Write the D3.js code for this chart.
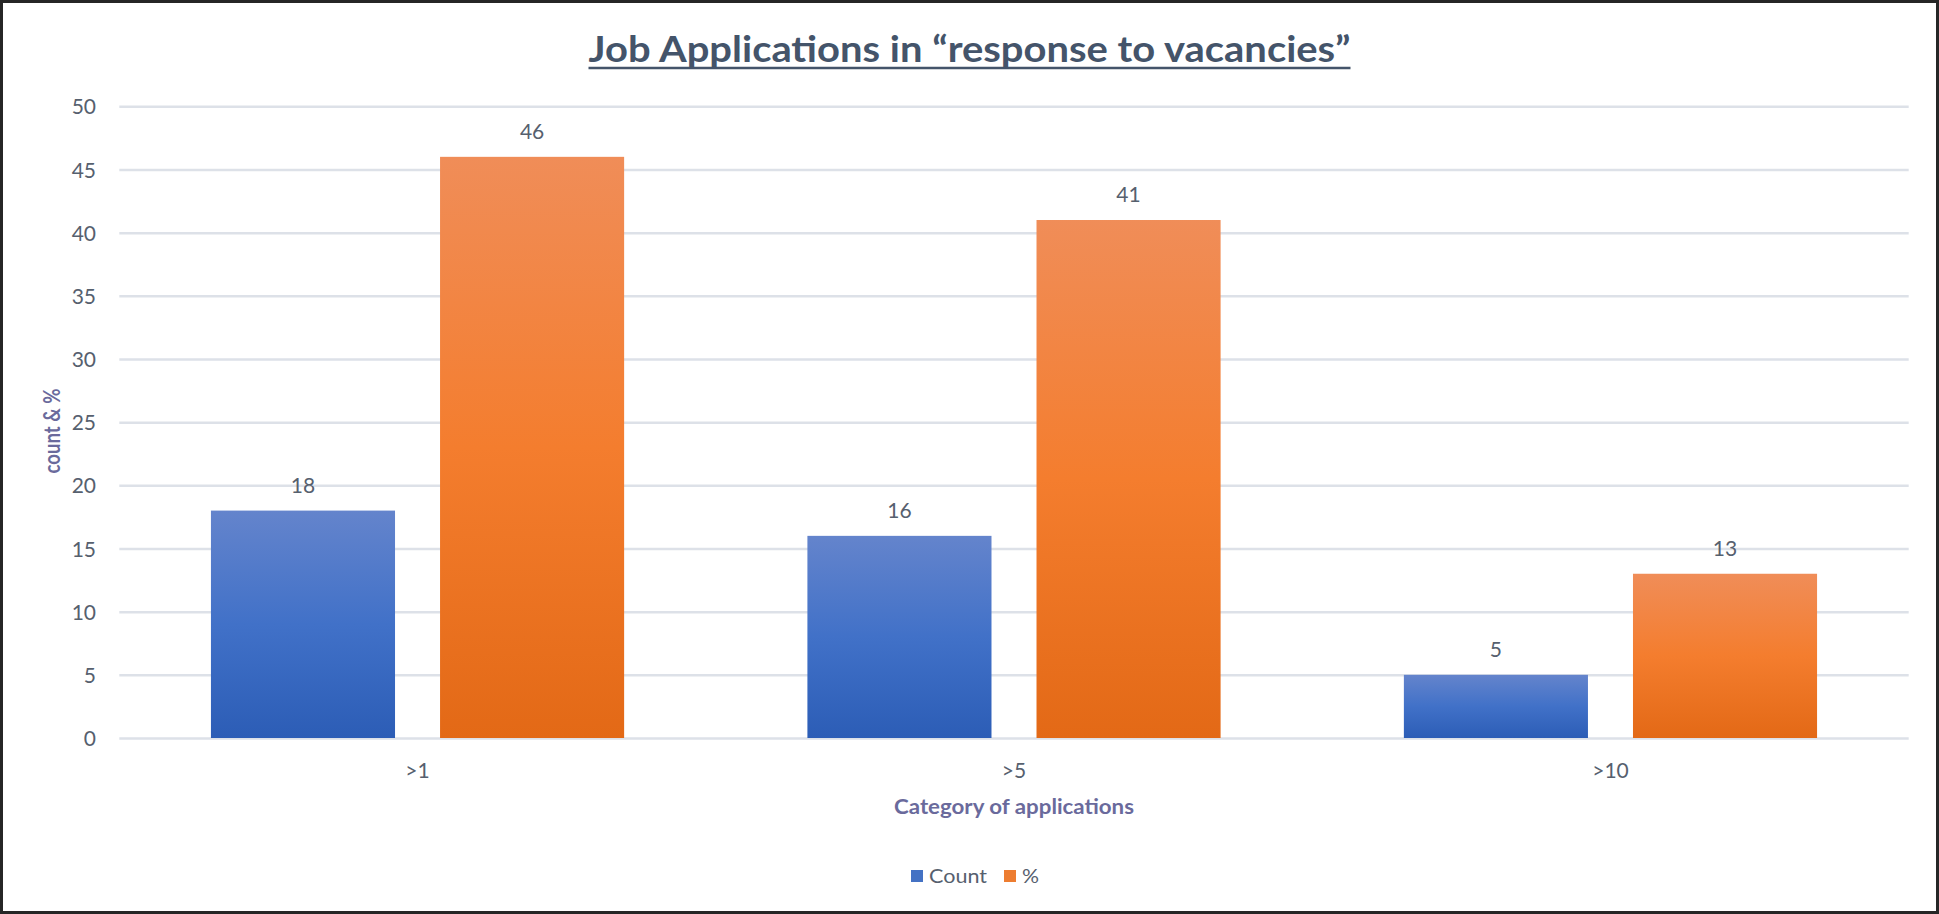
<!DOCTYPE html>
<html>
<head>
<meta charset="utf-8">
<script src="https://cdn.jsdelivr.net/npm/d3@7"></script>
<style>
  html, body { margin: 0; padding: 0; background: #fff; }
  svg { display: block; }
  text { font-family: Lato, "Open Sans", sans-serif; }
</style>
</head>
<body>
<svg id="chart" width="1939" height="914"></svg>
<script>
// Categories and series
const categories = [">1", ">5", ">10"];
const seriesNames = ["Count", "%"];
const countValues = [18, 16, 5];
const percentValues = [46, 41, 13];
const yTicks = [0, 5, 10, 15, 20, 25, 30, 35, 40, 45, 50];

const seriesValues = { "Count": countValues, "%": percentValues };

const W = 1939, H = 914;
const plot = { left: 119.3, right: 1908.7, top: 106.3, bottom: 738 };

const svg = d3.select("#chart");

// Gradients for the two series
const defs = svg.append("defs");
const gradients = {
  "Count": ["#6484CC", "#4171C8", "#2C5DB6"],
  "%": ["#F08D58", "#F47D2E", "#E36916"]
};
Object.entries(gradients).forEach(([name, stops], i) => {
  const g = defs.append("linearGradient")
    .attr("id", "grad" + i)
    .attr("x1", 0).attr("y1", 0).attr("x2", 0).attr("y2", 1);
  g.append("stop").attr("offset", "0%").attr("stop-color", stops[0]);
  g.append("stop").attr("offset", "50%").attr("stop-color", stops[1]);
  g.append("stop").attr("offset", "100%").attr("stop-color", stops[2]);
});
const fillFor = name => "url(#grad" + seriesNames.indexOf(name) + ")";
const solidFor = { "Count": "#4472C4", "%": "#ED7D31" };

// Background and outer frame
svg.append("rect").attr("x", 0).attr("y", 0).attr("width", W).attr("height", H).attr("fill", "#fff");
svg.append("rect")
  .attr("x", 1.5).attr("y", 1.5).attr("width", W - 3).attr("height", H - 3)
  .attr("fill", "none").attr("stroke", "#262626").attr("stroke-width", 3);

// Scales
const x = d3.scaleBand().domain(categories).range([plot.left, plot.right]).paddingInner(0).paddingOuter(0);
const xs = d3.scaleBand().domain(seriesNames).range([0, x.bandwidth()]).paddingInner(0.1965).paddingOuter(0.4);
const y = d3.scaleLinear().domain([0, 50]).range([plot.bottom, plot.top]);

// Horizontal gridlines
svg.append("g")
  .attr("transform", `translate(${plot.left},0)`)
  .call(d3.axisLeft(y).tickValues(yTicks).tickSize(-(plot.right - plot.left)).tickFormat(""))
  .call(g => g.select(".domain").remove())
  .call(g => g.selectAll(".tick line").attr("stroke", "#DDE1E8").attr("stroke-width", 2.5));

// Y tick labels
svg.append("g")
  .attr("transform", `translate(96,0)`)
  .call(d3.axisLeft(y).tickValues(yTicks).tickSize(0).tickPadding(0))
  .call(g => g.select(".domain").remove())
  .call(g => g.selectAll(".tick text")
    .attr("font-family", "Lato, sans-serif")
    .attr("font-size", 21)
    .attr("fill", "#56606E")
    .attr("text-anchor", "end")
    .attr("dy", "0.36em"));

// Bars
const groups = svg.append("g").selectAll("g")
  .data(categories)
  .join("g")
  .attr("transform", d => `translate(${x(d)},0)`);

groups.selectAll("rect")
  .data((c, i) => seriesNames.map(s => ({ series: s, value: seriesValues[s][i] })))
  .join("rect")
  .attr("x", d => xs(d.series))
  .attr("width", xs.bandwidth())
  .attr("y", d => y(d.value))
  .attr("height", d => y(0) - y(d.value))
  .attr("fill", d => fillFor(d.series));

// Value labels above bars
groups.selectAll("text.val")
  .data((c, i) => seriesNames.map(s => ({ series: s, value: seriesValues[s][i] })))
  .join("text")
  .attr("class", "val")
  .attr("x", d => xs(d.series) + xs.bandwidth() / 2)
  .attr("y", d => y(d.value) - 18)
  .attr("text-anchor", "middle")
  .attr("font-size", 21)
  .attr("fill", "#56606E")
  .text(d => d.value);

// Category labels
svg.append("g")
  .attr("transform", `translate(0,${plot.bottom})`)
  .call(d3.axisBottom(x).tickSize(0).tickPadding(0))
  .call(g => g.select(".domain").remove())
  .call(g => g.selectAll(".tick text")
    .attr("font-family", "Lato, sans-serif")
    .attr("font-size", 21)
    .attr("fill", "#56606E")
    .attr("dy", 0)
    .attr("y", 40));

// Title with underline
svg.append("text")
  .attr("x", W / 2)
  .attr("y", 62)
  .attr("text-anchor", "middle")
  .attr("font-size", 37)
  .attr("font-weight", 700)
  .attr("fill", "#44546A")
  .attr("textLength", 762)
  .attr("lengthAdjust", "spacingAndGlyphs")
  .text("Job Applications in \u201Cresponse to vacancies\u201D");
svg.append("line")
  .attr("x1", W / 2 - 381).attr("x2", W / 2 + 381)
  .attr("y1", 68).attr("y2", 68)
  .attr("stroke", "#44546A").attr("stroke-width", 2.5);

// Axis titles
svg.append("text")
  .attr("transform", `translate(60,431) rotate(-90)`)
  .attr("text-anchor", "middle")
  .attr("font-size", 22)
  .attr("font-weight", 700)
  .attr("fill", "#6A6A9C")
  .attr("textLength", 85)
  .attr("lengthAdjust", "spacingAndGlyphs")
  .text("count & %");

svg.append("text")
  .attr("x", (plot.left + plot.right) / 2)
  .attr("y", 814)
  .attr("text-anchor", "middle")
  .attr("font-size", 20.5)
  .attr("font-weight", 700)
  .attr("fill", "#6A6A9C")
  .attr("textLength", 240)
  .attr("lengthAdjust", "spacingAndGlyphs")
  .text("Category of applications");

// Legend
const legendItems = [
  { name: "Count", sx: 911, tx: 929, tw: 58 },
  { name: "%", sx: 1004, tx: 1022, tw: 17 }
];
const legend = svg.append("g");
legend.selectAll("rect")
  .data(legendItems)
  .join("rect")
  .attr("x", d => d.sx).attr("y", 870)
  .attr("width", 12).attr("height", 12)
  .attr("fill", d => solidFor[d.name]);
legend.selectAll("text")
  .data(legendItems)
  .join("text")
  .attr("x", d => d.tx).attr("y", 883)
  .attr("font-size", 20)
  .attr("fill", "#56606E")
  .attr("textLength", d => d.tw)
  .attr("lengthAdjust", "spacingAndGlyphs")
  .text(d => d.name);
</script>
</body>
</html>
